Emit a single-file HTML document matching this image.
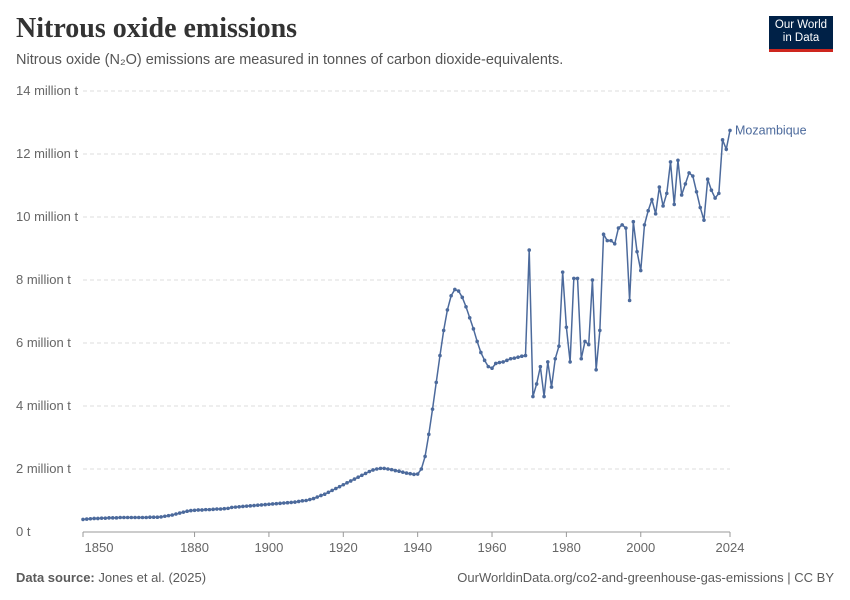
<!DOCTYPE html>
<html><head><meta charset="utf-8"><style>
body{margin:0;background:#fff;font-family:"Liberation Sans",sans-serif}
#w{position:relative;width:850px;height:600px}
.t{position:absolute;white-space:nowrap}
</style></head><body><div id="w">
<div class="t" style="left:16px;top:13px;font-family:'Liberation Serif',serif;font-size:28px;font-weight:bold;color:#333">Nitrous oxide emissions</div>
<div class="t" style="left:16px;top:52px;font-size:14.5px;color:#555">Nitrous oxide (N₂O) emissions are measured in tonnes of carbon dioxide-equivalents.</div>
<div style="position:absolute;left:769px;top:16px;width:64px;height:36px;background:#002147;border-bottom:3px solid #ce261e;color:#fff;font-size:11.5px;line-height:13px;text-align:center;padding-top:3px;box-sizing:border-box">Our World<br>in Data</div>
<div class="t" style="left:16px;top:570px;font-size:13px;color:#5b5b5b"><b>Data source:</b> Jones et al. (2025)</div>
<div class="t" style="right:16px;top:570px;font-size:13px;color:#5b5b5b">OurWorldinData.org/co2-and-greenhouse-gas-emissions | CC BY</div>
<svg id="c" width="850" height="600" style="position:absolute;left:0;top:0"></svg>
</div>
<script>
const startYear=1850;
const values=[0.40,0.41,0.42,0.43,0.43,0.44,0.44,0.45,0.45,0.45,
0.46,0.46,0.46,0.46,0.46,0.46,0.46,0.46,0.47,0.47,
0.47,0.48,0.50,0.52,0.54,0.57,0.60,0.63,0.66,0.68,
0.69,0.70,0.70,0.71,0.71,0.72,0.73,0.73,0.74,0.75,
0.78,0.79,0.80,0.81,0.82,0.83,0.84,0.85,0.86,0.87,
0.88,0.89,0.90,0.91,0.92,0.93,0.94,0.95,0.97,0.99,
1.0,1.03,1.06,1.11,1.16,1.2,1.26,1.32,1.38,1.44,
1.5,1.56,1.62,1.68,1.74,1.8,1.86,1.92,1.97,2.0,
2.02,2.02,2.0,1.98,1.95,1.93,1.9,1.87,1.85,1.83,
1.84,2.0,2.4,3.1,3.9,4.75,5.6,6.4,7.05,7.5,
7.7,7.65,7.45,7.15,6.8,6.45,6.05,5.7,5.45,5.25,
5.2,5.35,5.38,5.4,5.45,5.5,5.52,5.55,5.58,5.6,
8.95,4.3,4.7,5.25,4.3,5.4,4.6,5.5,5.9,8.25,
6.5,5.4,8.05,8.05,5.5,6.05,5.95,8.0,5.15,6.4,
9.45,9.25,9.25,9.15,9.65,9.75,9.65,7.35,9.85,8.9,
8.3,9.75,10.2,10.55,10.1,10.95,10.35,10.75,11.75,10.4,
11.8,10.7,11.05,11.4,11.3,10.8,10.3,9.9,11.2,10.85,
10.6,10.75,12.45,12.15,12.75];
const years=values.map((v,i)=>startYear+i);
const yTicks=[0,2,4,6,8,10,12,14];
const yTickLabels=["0 t","2 million t","4 million t","6 million t","8 million t","10 million t","12 million t","14 million t"];
const xTicks=[1850,1880,1900,1920,1940,1960,1980,2000,2024];
const NS="http://www.w3.org/2000/svg",svg=document.getElementById('c');
const X=y=>83+(y-1850)*(647/174), Y=v=>532-v*(441/14);
function el(t,a){const e=document.createElementNS(NS,t);for(const k in a)e.setAttribute(k,a[k]);svg.appendChild(e);return e;}
yTicks.forEach((v,i)=>{
 const g=el('line',{x1:83,x2:730,y1:Y(v),y2:Y(v),stroke:v?'#ddd':'#999','stroke-dasharray':v?'4,3':'none'});
 
 
 const t=el('text',{x:16,y:Y(v)+4,'font-size':13,fill:'#666','font-family':'Liberation Sans'});t.textContent=yTickLabels[i];
 
 
});
xTicks.forEach(y=>{
 const tk=el('line',{x1:X(y),x2:X(y),y1:532,y2:537,stroke:'#999'});
 
 
 const t=el('text',{x:y===1850?99:X(y),y:552,'font-size':13,fill:'#666','text-anchor':'middle','font-family':'Liberation Sans'});t.textContent=y;
 
 
});
const p=el('polyline',{points:years.map((y,i)=>X(y)+','+Y(values[i])).join(' '),fill:'none',stroke:'#4c6a9c','stroke-width':1.5});


years.forEach((y,i)=>{const c=el('circle',{cx:X(y),cy:Y(values[i]),r:1.8,fill:'#4c6a9c'});
 
 });
const lb=el('text',{x:735,y:Y(values[values.length-1])+4,'font-size':12.5,fill:'#4c6a9c','font-family':'Liberation Sans'});lb.textContent='Mozambique';


</script></body></html>
